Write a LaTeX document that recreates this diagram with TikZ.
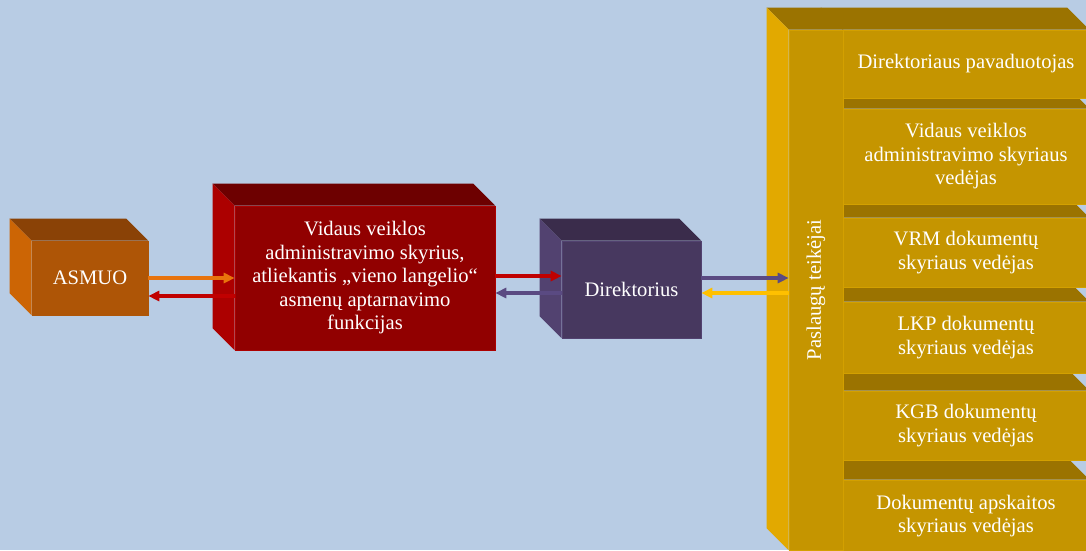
\documentclass[tikz,border=0pt]{standalone}
\usepackage{fontspec}
\setmainfont{Liberation Serif}
\usetikzlibrary{arrows.meta,calc}
\definecolor{bgblue}{HTML}{B8CCE4}
\definecolor{asfront}{HTML}{AE5506}
\definecolor{astop}{HTML}{8A4206}
\definecolor{asleft}{HTML}{CC6505}
\definecolor{rdfront}{HTML}{910000}
\definecolor{rdtop}{HTML}{6D0000}
\definecolor{rdleft}{HTML}{AC0000}
\definecolor{dirfront}{HTML}{47385F}
\definecolor{dirtop}{HTML}{3A2C4B}
\definecolor{dirleft}{HTML}{524270}
\definecolor{gdfront}{HTML}{C59500}
\definecolor{gdtop}{HTML}{9B7300}
\definecolor{gdleft}{HTML}{E2A900}
\definecolor{gdedge}{HTML}{D3A000}
\definecolor{arorange}{HTML}{E8730C}
\definecolor{arred}{HTML}{C00000}
\definecolor{arpurple}{HTML}{5A4A82}
\definecolor{argold}{HTML}{FFC000}
\newcommand{\boxtop}[2]{%
  \fill[#2] (#1.north west) -- ++(-22,-22) -- ($(#1.north east)+(-22,-22)$) -- (#1.north east) -- cycle;}
\newcommand{\boxleft}[2]{%
  \fill[#2] (#1.north west) -- ++(-22,-22) -- ($(#1.south west)+(-22,-22)$) -- (#1.south west) -- cycle;}
\begin{document}
\begin{tikzpicture}[x=1pt,y=-1pt,
  face/.style={rectangle,inner sep=0pt,text=white,align=center,
    font=\fontsize{20.6}{23.5}\selectfont,line width=0.6pt},
  rowbox/.style={face,fill=gdfront,draw=gdedge,minimum width=246pt},
  arr/.style={line width=3.2pt,-{Triangle[length=11pt,width=10pt]}}]
\useasboundingbox (0,0) rectangle (1086,550);
\fill[bgblue] (0,0) rectangle (1086,550);
\clip (0,0) rectangle (1086,550);

% ASMUO
\node[face,fill=asfront,draw=asfront,minimum width=116pt,minimum height=74pt] (asmuo) at (90,278) {ASMUO};
\boxtop{asmuo}{astop}
\boxleft{asmuo}{asleft}

% red box
\node[face,fill=rdfront,draw=rdleft,minimum width=260pt,minimum height=144pt] (red) at (365,278)
  {Vidaus veiklos\\administravimo skyrius,\\atliekantis „vieno langelio“\\asmenų aptarnavimo\\funkcijas};
\boxtop{red}{rdtop}
\boxleft{red}{rdleft}

% Direktorius
\node[face,fill=dirfront,draw=dirleft,minimum width=139pt,minimum height=97pt] (dir) at (631.5,289.5) {Direktorius};
\boxtop{dir}{dirtop}
\boxleft{dir}{dirleft}

% rows (bottom to top)
\node[rowbox,minimum height=72pt] (r6) at (966,516) {Dokumentų apskaitos\\skyriaus vedėjas};
\boxtop{r6}{gdtop}
\node[rowbox,minimum height=69pt] (r5) at (966,425.5) {KGB dokumentų\\skyriaus vedėjas};
\boxtop{r5}{gdtop}
\node[rowbox,minimum height=71pt] (r4) at (966,337.5) {LKP dokumentų\\skyriaus vedėjas};
\boxtop{r4}{gdtop}
\node[rowbox,minimum height=69pt] (r3) at (966,252.5) {VRM dokumentų\\skyriaus vedėjas};
\boxtop{r3}{gdtop}
\node[rowbox,minimum height=95pt] (r2) at (966,156.5) {Vidaus veiklos\\administravimo skyriaus\\vedėjas};
\boxtop{r2}{gdtop}
\node[rowbox,minimum height=68pt] (r1) at (966,64) {Direktoriaus pavaduotojas};
\boxtop{r1}{gdtop}

% column
\node[face,fill=gdfront,draw=gdedge,minimum width=54pt,minimum height=520pt] (col) at (816,290) {};
\boxtop{col}{gdtop}
\boxleft{col}{gdleft}
\node[face,rotate=90] (coltext) at (col.center) {Paslaugų teikėjai};

% arrows
\draw[arr,arorange] (asmuo.east) -- (red.west);
\coordinate (p2) at ([yshift=-18pt]red.west);
\draw[arr,arred] (p2) -- (p2 -| asmuo.east);
\coordinate (p3) at ([yshift=2pt]red.east);
\draw[arr,arred] (p3) -- (p3 -| dir.west);
\coordinate (p4) at ([yshift=-3.5pt]dir.west);
\draw[arr,arpurple] (p4) -- (p4 -| red.east);
\coordinate (p5) at ([yshift=11.5pt]dir.east);
\draw[arr,arpurple] (p5) -- (p5 -| col.west);
\coordinate (p6) at ([yshift=-3.5pt]dir.east);
\draw[arr,argold] (p6 -| col.west) -- (p6);
\end{tikzpicture}
\end{document}
